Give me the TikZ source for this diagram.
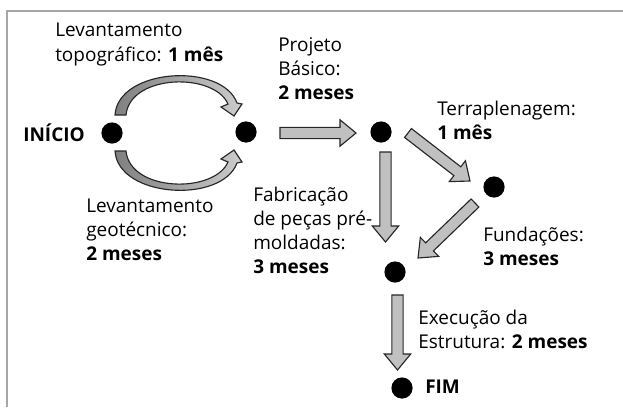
\documentclass[tikz,border=0pt]{standalone}
\usepackage{fontspec}
\setmainfont{Open Sans}
\usetikzlibrary{calc}

\definecolor{framegray}{HTML}{A6A6A6}
\definecolor{arrowgray}{HTML}{C0C0C0}

\tikzset{
  dot/.style={circle, fill=black, inner sep=0pt, minimum size=0.53cm},
  lbl/.style={anchor=west, align=left, inner sep=0pt, font=\fontsize{13.5}{17.1}\selectfont},
  blockarrow/.style={draw=black!85, fill=arrowgray, line width=0.8pt, line join=miter},
  curvedarrow/.style={draw=black!85, left color=black!50, right color=black!20, line width=0.8pt}
}

% straight block arrow between two points
\newcommand{\shafthw}{0.14cm}
\newcommand{\headhw}{0.33cm}
\newcommand{\headlen}{0.4cm}
\newcommand{\blockarrow}[2]{%
  \path (#1) coordinate (ba-s) (#2) coordinate (ba-t);
  \path ($(ba-t)!\headlen!(ba-s)$) coordinate (ba-h);
  \draw[blockarrow] ($(ba-s)!\shafthw!90:(ba-t)$) -- ($(ba-h)!\shafthw!-90:(ba-s)$)
    -- ($(ba-h)!\headhw!-90:(ba-s)$) -- (ba-t) -- ($(ba-h)!\headhw!90:(ba-s)$)
    -- ($(ba-h)!\shafthw!90:(ba-s)$) -- ($(ba-s)!\shafthw!-90:(ba-t)$) -- cycle;
}
% curved arrow, relative to the start dot
\newcommand{\curvebody}{(3,-18) .. controls (6,-65) and (110,-71) .. (125,-30) -- (130,-29)
  -- (122,-17) -- (109,-26) -- (116,-29) .. controls (102,-61) and (18,-59) .. (14,-18) -- cycle}

\begin{document}
\begin{tikzpicture}[x=0.025cm, y=-0.025cm]
  \useasboundingbox (0,0) rectangle (623,407);
  \draw[framegray, line width=1.4pt] (7,407) -- (7,11) -- (623,11);

  % events
  \node[dot] (ini) at (112,133) {};
  \node[dot] (a) at (246,132) {};
  \node[dot] (b) at (381,132) {};
  \node[dot] (c) at (494,187) {};
  \node[dot] (d) at (395,272) {};
  \node[dot] (fim) at (402,388) {};

  % activities
  \begin{scope}[shift={(ini)}]
    \draw[curvedarrow] \curvebody;
  \end{scope}
  \begin{scope}[shift={(ini)}, yscale=-1]
    \draw[curvedarrow] \curvebody;
  \end{scope}
  \blockarrow{$(a)+(34,1)$}{$(b)+(-25,1)$}
  \blockarrow{$(b)+(27,1)$}{$(c)+(-24,-6)$}
  \blockarrow{$(c)+(-19,16)$}{$(d)+(23,-14)$}
  \blockarrow{$(b)+(4.5,20)$}{$(d)+(-9.5,-30)$}
  \blockarrow{$(d)+(2.5,23)$}{$(fim)+(-4.5,-18)$}

  % labels
  \node[lbl] (l-ini) at (23,133) {\textbf{INÍCIO}};
  \node[lbl] (l-fim) at (425,387) {\textbf{FIM}};
  \node[lbl] (l-topo) at (55,44.5) {Levantamento\\topográfico: \textbf{1 mês}};
  \node[lbl] (l-geo) at (86,230) {Levantamento\\geotécnico:\\\textbf{2 meses}};
  \node[lbl] (l-proj) at (278,69) {Projeto\\Básico:\\\textbf{2 meses}};
  \node[lbl] (l-terra) at (437,120.5) {Terraplenagem:\\\textbf{1 mês}};
  \node[lbl] (l-fab) at (253,230.5) {Fabricação\\de peças pré-\\moldadas:\\\textbf{3 meses}};
  \node[lbl] (l-fund) at (483,246) {Fundações:\\\textbf{3 meses}};
  \node[lbl] (l-exec) at (418,329.5) {Execução da\\Estrutura: \textbf{2 meses}};
\end{tikzpicture}
\end{document}
